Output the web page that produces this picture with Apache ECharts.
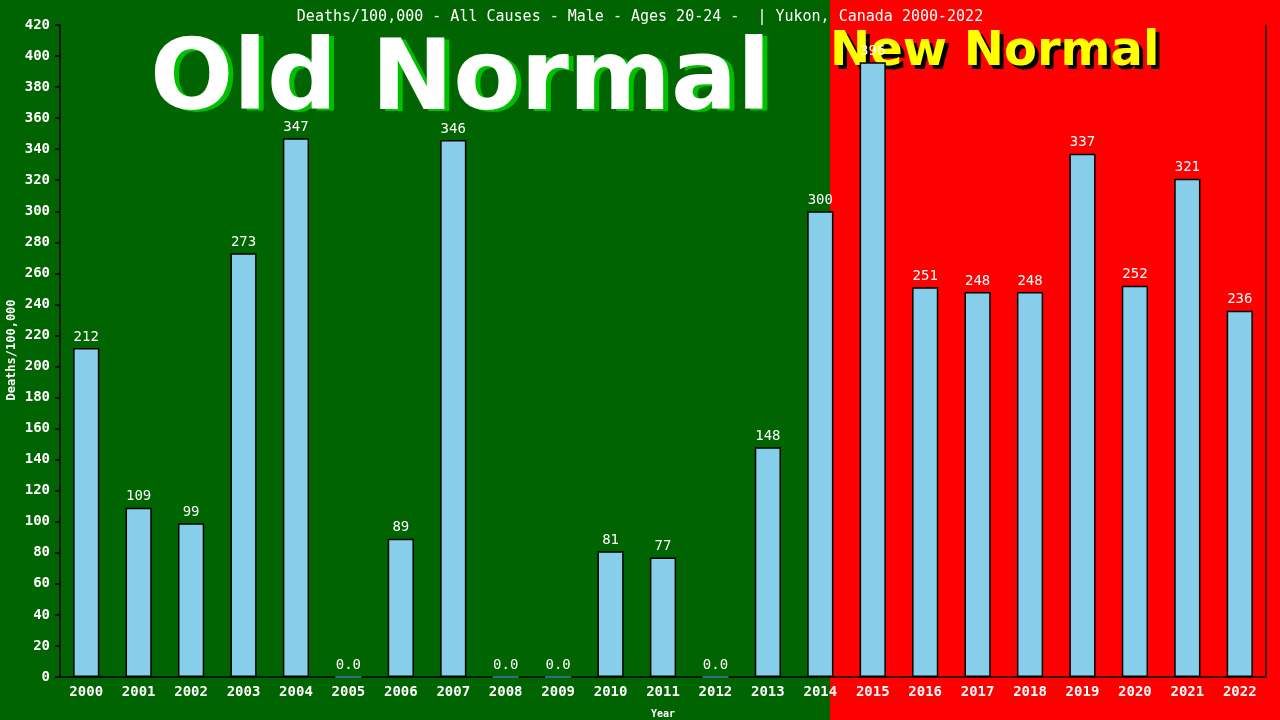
<!DOCTYPE html>
<html>
<head>
<meta charset="utf-8">
<script src="https://cdn.jsdelivr.net/npm/echarts@6/dist/echarts.min.js"></script>
<style>html,body{margin:0;padding:0;background:#006400}#c{width:1280px;height:720px}</style>
</head>
<body>
<div id="c"></div>
<script>
var years = ['2000','2001','2002','2003','2004','2005','2006','2007','2008','2009','2010','2011','2012','2013','2014','2015','2016','2017','2018','2019','2020','2021','2022'];
var deaths = [212,109,99,273,347,0,89,346,0,0,81,77,0,148,300,396,251,248,248,337,252,321,236];
var yTicks = {min:0, max:420, interval:20};
var titleText = 'Deaths/100,000 - All Causes - Male - Ages 20-24 -  | Yukon, Canada 2000-2022';
var yName = 'Deaths/100,000';

var mono = '"DejaVu Sans Mono", "Liberation Mono", monospace';
var chart = echarts.init(document.getElementById('c'));
var barData = deaths.map(function(v){
  if (v === 0) return {value: v, itemStyle: {color:'#4682B4', borderColor:'#4682B4', borderWidth:1.5}};
  return v;
});
chart.setOption({
  backgroundColor: '#006400',
  animation: false,
  title: {
    text: titleText, left: 'center', top: 5,
    textStyle: {color:'#fff', fontFamily: mono, fontSize: 15, fontWeight: 'normal'}
  },
  graphic: [
    {type:'rect', z:0, silent:true, shape:{x:830, y:0, width:450, height:720}, style:{fill:'#FF0000'}},
    {type:'text', z:1, x:155, y:86, style:{text:'Old Normal', fill:'#00C000', font:'bold 98px "DejaVu Sans"', textVerticalAlign:'middle'}},
    {type:'text', z:1, x:150, y:84, style:{text:'Old Normal', fill:'#ffffff', font:'bold 98px "DejaVu Sans"', textVerticalAlign:'middle'}},
    {type:'text', z:1, x:834, y:57, style:{text:'New Normal', fill:'#000000', font:'bold 48px "DejaVu Sans"', textVerticalAlign:'middle'}},
    {type:'text', z:1, x:830, y:53, style:{text:'New Normal', fill:'#FFFF00', font:'bold 48px "DejaVu Sans"', textVerticalAlign:'middle'}},
    {type:'text', z:3, x:12, y:350, rotation:Math.PI/2, style:{text:yName, fill:'#fff', font:'bold 12px "DejaVu Sans Mono"', textAlign:'center', textVerticalAlign:'middle'}}
  ],
  grid: {left:60, right:14, top:25, bottom:43, outerBoundsMode:'none', containLabel:false},
  xAxis: {
    type:'category', data: years,
    name:'Year', nameLocation:'middle', nameGap:32,
    nameTextStyle:{color:'#fff', fontFamily: mono, fontSize:10, fontWeight:'bold'},
    axisLine:{lineStyle:{color:'#000', width:1.5}},
    axisTick:{show:false},
    axisLabel:{color:'#fff', fontFamily: mono, fontSize:14, fontWeight:'bold', margin:8}
  },
  yAxis: [{
    type:'value', min:yTicks.min, max:yTicks.max, interval:yTicks.interval,
    axisLine:{show:true, lineStyle:{color:'#000', width:1.5}},
    axisTick:{show:true, length:5, lineStyle:{color:'#000', width:1.5}},
    axisLabel:{color:'#fff', fontFamily: mono, fontSize:14, fontWeight:'bold', margin:10},
    splitLine:{show:false}
  },{
    type:'value', position:'right', min:yTicks.min, max:yTicks.max, interval:yTicks.interval,
    axisLine:{show:true, lineStyle:{color:'#000', width:1.5}},
    axisTick:{show:false}, axisLabel:{show:false}, splitLine:{show:false}
  }],
  series: [{
    type:'bar', data: barData, barWidth:'50%', z:2,
    itemStyle:{color:'#87CEEB', borderColor:'#000', borderWidth:1.5},
    label:{show:true, position:'top', distance:4, color:'#fff', fontFamily: mono, fontSize:14,
      formatter:function(p){ return p.value === 0 ? '0.0' : String(p.value); }}
  }]
});
</script>
</body>
</html>
